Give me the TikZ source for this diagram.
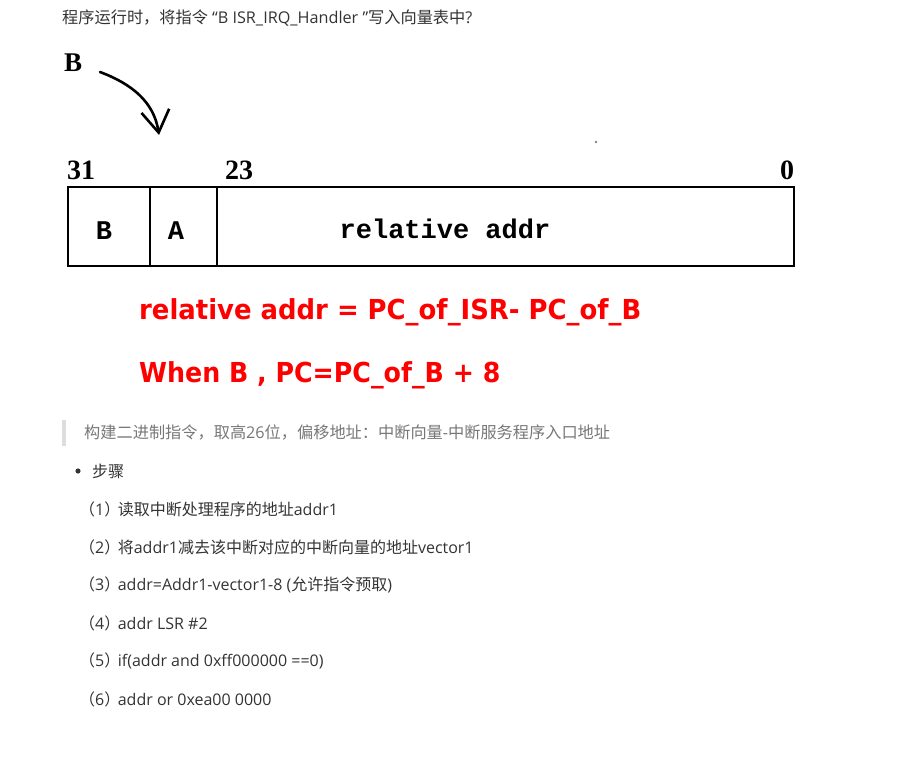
\documentclass[tikz,border=0pt]{standalone}
\usepackage{fontspec}
\setmainfont{Open Sans}
\newfontfamily\cjk{Noto Sans CJK SC}
\newfontfamily\serifface{Liberation Serif}
\newfontfamily\monoface{Liberation Mono}
\newfontfamily\redface{DejaVu Sans}
\usetikzlibrary{arrows.meta}
\definecolor{txt}{HTML}{333333}
\definecolor{quote}{HTML}{777777}
\definecolor{bar}{HTML}{DDDDDD}
\definecolor{redtxt}{HTML}{FF0000}
\newcommand{\zh}[1]{{\cjk #1}}
\newcommand{\stepnum}[1]{\zh{（}#1\zh{）}\kern-2.5pt}
\begin{document}
\begin{tikzpicture}[x=1pt,y=-1pt,
  body/.style={anchor=west,inner sep=0pt,text=txt,font=\fontsize{16}{18}\selectfont},
  quotetext/.style={anchor=west,inner sep=0pt,text=quote,font=\fontsize{16.2}{18}\selectfont},
  bitnum/.style={anchor=base west,inner sep=0pt,font=\serifface\bfseries\fontsize{28}{30}\selectfont},
  field/.style={anchor=center,inner sep=0pt,font=\monoface\bfseries\fontsize{27}{29}\selectfont},
  redline/.style={anchor=west,inner sep=0pt,text=redtxt,font=\redface\bfseries\fontsize{27.5}{30}\selectfont},
  frame/.style={draw=black,line width=2.6pt}]
\useasboundingbox (0,0) rectangle (915,762);
% title
\node[anchor=west,inner sep=0pt,text=txt,font=\fontsize{16.2}{18}\selectfont] (title) at (62,18)
  {\zh{程序运行时，将指令} “B ISR\_IRQ\_Handler ”\zh{写入向量表中}?};
% B and arrow
\node[anchor=base west,inner sep=0pt,font=\serifface\bfseries\fontsize{27}{29}\selectfont] (bl) at (64,72) {B};
\coordinate (as) at (100,72);
\coordinate (at) at (159,135);
\draw[line width=2.6pt,line cap=round,-{Straight Barb[length=22pt,width=28pt,line width=2.6pt]}]
  (as) .. controls (132,84) and (154,102) .. (at);
\fill[gray] (596,142) circle (1.3);
% bit numbers
\node[bitnum] (n31) at (67,180) {31};
\node[bitnum] (n23) at (225,180) {23};
\node[bitnum] (n0) at (780,180) {0};
% instruction box
\node[frame,minimum width=82pt,minimum height=79pt,inner sep=0pt] (fb) at (109,226.5) {};
\node[frame,minimum width=67pt,minimum height=79pt,inner sep=0pt] (fa) at (183.5,226.5) {};
\node[frame,minimum width=577pt,minimum height=79pt,inner sep=0pt] (fr) at (505.5,226.5) {};
\node[field] (lb) at (104,231) {B};
\node[field] (la) at (176,231) {A};
\node[field] (lr) at (445,229) {relative addr};
% red formulas
\node[redline] (r1) at (139,312) {\scalebox{0.942}[1]{relative addr = PC\_of\_ISR- PC\_of\_B}};
\node[redline] (r2) at (139,375) {\scalebox{0.92}[1]{When B , PC=PC\_of\_B + 8}};
% quote
\fill[bar] (62,420) rectangle (66,446);
\node[quotetext] (q) at (84,433) {\zh{构建二进制指令，取高}26\zh{位，偏移地址：中断向量}-\zh{中断服务程序入口地址}};
% bullet
\fill[txt] (78,471) circle (2.6);
\node[body] (steps) at (92,471) {\zh{步骤}};
% steps
\node[body] (s1) at (79,509) {\stepnum{1}\zh{读取中断处理程序的地址}addr1};
\node[body] (s2) at (79,547) {\stepnum{2}\zh{将}addr1\zh{减去该中断对应的中断向量的地址}vector1};
\node[body] (s3) at (79,585) {\stepnum{3}addr=Addr1-vector1-8 (\zh{允许指令预取})};
\node[body] (s4) at (79,623) {\stepnum{4}addr LSR \#2};
\node[body] (s5) at (79,661) {\stepnum{5}if(addr and 0xff000000 ==0)};
\node[body] (s6) at (79,699) {\stepnum{6}addr or 0xea00 0000};
\end{tikzpicture}
\end{document}
